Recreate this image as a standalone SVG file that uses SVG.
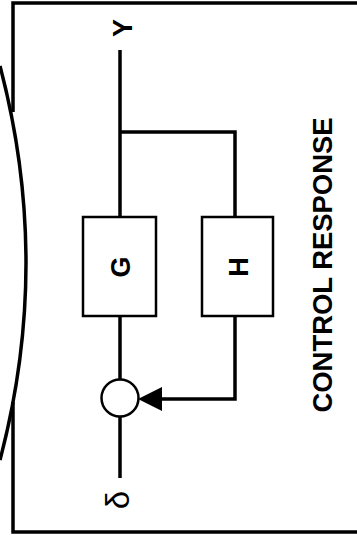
<svg xmlns="http://www.w3.org/2000/svg" width="357" height="535" viewBox="0 0 357 535">
<defs>
<style>
.frame{fill:none;stroke:#000;stroke-width:3.5}
.wire{fill:none;stroke:#000;stroke-width:3.5}
.box{fill:#fff;stroke:#000;stroke-width:2.5}
.lbl{font-family:"Liberation Sans",Arial,sans-serif;font-size:27px;font-weight:bold;fill:#000;text-anchor:middle}
</style>
</defs>
<rect width="357" height="535" fill="#fff"/>
<g id="frame">
<path class="frame" d="M357,3 L13,3 L13,112 M13,402 L13,532 L357,532"/>
<path class="frame" d="M0,66 Q52,263 0,460"/>
</g>
<g id="connectors">
<path class="wire" d="M120,50 L120,217"/>
<path class="wire" d="M120,316 L120,380"/>
<path class="wire" d="M120,416 L120,478"/>
<path class="wire" d="M120,132 L235,132 L235,217"/>
<path class="wire" d="M235,316 L235,399 L160,399"/>
<polygon points="138,399 162,387 162,411" fill="#000"/>
</g>
<g id="G">
<rect class="box" x="83" y="217" width="73" height="99"/>
<text class="lbl" transform="translate(120,267) rotate(-90)" x="0" y="9.7">G</text>
</g>
<g id="H">
<rect class="box" x="202" y="217" width="71" height="99"/>
<text class="lbl" transform="translate(238,267) rotate(-90)" x="0" y="9.7">H</text>
</g>
<g id="sum">
<circle cx="120" cy="398" r="18.5" fill="#fff" stroke="#000" stroke-width="2.5"/>
</g>
<g id="input">
<text class="lbl" transform="translate(118,500) rotate(-90)" x="0" y="11" style="font-size:33px;font-weight:normal">δ</text>
</g>
<g id="output">
<text class="lbl" transform="translate(122,28) rotate(-90)" x="0" y="9.7">Y</text>
</g>
<g id="title">
<text class="lbl" transform="translate(322,265) rotate(-90)" x="0" y="10" textLength="295" lengthAdjust="spacingAndGlyphs">CONTROL RESPONSE</text>
</g>
</svg>
